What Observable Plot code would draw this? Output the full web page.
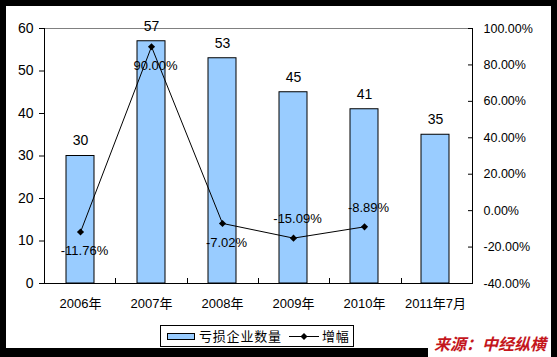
<!DOCTYPE html>
<html><head><meta charset="utf-8">
<script src="https://cdn.jsdelivr.net/npm/d3@7"></script>
<script src="https://cdn.jsdelivr.net/npm/@observablehq/plot@0.6"></script>
<style>
body{margin:0;background:#fff;}
#wrap{position:relative;width:557px;height:357px;background:#000;overflow:hidden;font-family:"Liberation Sans",Arial,"Noto Sans CJK SC",sans-serif;}
#inner{position:absolute;left:6px;top:6px;width:545px;height:342px;background:#fff;}
#chart{position:absolute;left:0;top:0;}
#legend{position:absolute;left:160px;top:325px;width:192px;height:20px;border:1px solid #000;background:#fff;font-size:13px;font-family:"Noto Sans CJK SC",sans-serif;letter-spacing:0.8px;color:#000;}
#legend .sw{position:absolute;left:6px;top:7px;width:26px;height:5px;background:#99ccff;border:1px solid #000;}
#legend .t1{position:absolute;left:38px;top:0px;line-height:20px;white-space:nowrap;}
#legend svg{position:absolute;left:127px;top:4px;}
#legend .t2{position:absolute;left:161px;top:0px;line-height:20px;white-space:nowrap;}
#srcbox{position:absolute;left:428px;top:330px;width:123px;height:27px;background:#fff;}
#src{position:absolute;left:434px;top:332px;font-size:16px;font-weight:bold;font-style:italic;color:#c4161c;font-family:"Noto Sans CJK SC",sans-serif;white-space:nowrap;line-height:22px;}
</style>
</head><body>
<div id="wrap">
  <div id="inner"></div>
  <div id="chart"></div>
  <div id="legend">
    <div class="sw"></div><div class="t1">亏损企业数量</div>
    <svg width="32" height="12"><line x1="1" y1="6.5" x2="31" y2="6.5" stroke="#000" stroke-width="1"/><path d="M16,3 L19.5,6.5 L16,10 L12.5,6.5Z" fill="#000"/></svg>
    <div class="t2">增幅</div>
  </div>
  <div id="srcbox"></div>
  <div id="src">来源：中经纵横</div>
</div>
<script>
// ---- data ----
const years = ["2006年", "2007年", "2008年", "2009年", "2010年", "2011年7月"];
const lossCount = [30, 57, 53, 45, 41, 35];
const growthYears = ["2006年", "2007年", "2008年", "2009年", "2010年"];
const growthPct = [-11.76, 90.00, -7.02, -15.09, -8.89];
const growthLabelSide = ["below", "below", "below", "above", "above"];
const leftTicks = [0, 10, 20, 30, 40, 50, 60];
const rightTicks = [-40, -20, 0, 20, 40, 60, 80, 100];

// secondary axis mapping (-40%..100%) -> (0..60)
const rMin = -40, rMax = 100, lMax = 60;
const toLeft = p => (p - rMin) * lMax / (rMax - rMin);
const toRight = v => v * (rMax - rMin) / lMax + rMin;

const bars = years.map((c, i) => ({c, v: lossCount[i]}));
const growth = growthYears.map((c, i) => ({c, p: growthPct[i], y: toLeft(growthPct[i]), side: growthLabelSide[i]}));

function frameMark(index, scales, values, dims) {
  const {width, height, marginLeft: ml, marginRight: mr, marginTop: mt, marginBottom: mb} = dims;
  const x0 = ml, x1 = width - mr, yb = height - mb, yt = mt;
  const g = d3.create("svg:g").attr("shape-rendering", "crispEdges");
  g.append("line").attr("x1", x0).attr("x2", x1).attr("y1", yt + 0.5).attr("y2", yt + 0.5).attr("stroke", "#808080");
  g.append("line").attr("x1", x0 + 0.5).attr("x2", x0 + 0.5).attr("y1", yt).attr("y2", yb + 1).attr("stroke", "#000");
  g.append("line").attr("x1", x1 + 0.5).attr("x2", x1 + 0.5).attr("y1", yt).attr("y2", yb + 1).attr("stroke", "#000");
  g.append("line").attr("x1", x0).attr("x2", x1 + 1).attr("y1", yb + 0.5).attr("y2", yb + 0.5).attr("stroke", "#000");
  const n = years.length, step = (x1 - x0) / n;
  for (let i = 1; i < n; i++) {
    const xx = Math.round(x0 + i * step) + 0.5;
    g.append("line").attr("x1", xx).attr("x2", xx).attr("y1", yb).attr("y2", yb - 5).attr("stroke", "#000");
  }
  return g.node();
}

const chart = Plot.plot({
  width: 557,
  height: 320,
  marginLeft: 44,
  marginRight: 85,
  marginTop: 28,
  marginBottom: 37,
  style: {background: "transparent", fontFamily: "'Liberation Sans', Arial, 'Noto Sans CJK SC', sans-serif", color: "#000"},
  x: {domain: years, paddingInner: 0.6, paddingOuter: 0.3, label: null},
  y: {domain: [0, lMax], label: null},
  marks: [
    Plot.barY(bars, {x: "c", y: "v", fill: "#99ccff", stroke: "#000", strokeWidth: 1}),
    frameMark,
    Plot.axisY({anchor: "left", ticks: leftTicks, tickSize: 5, tickPadding: 6, fontSize: 14, label: null, stroke: "#000"}),
    Plot.axisY({anchor: "right", ticks: rightTicks.map(toLeft), tickFormat: v => Math.round(toRight(v)).toFixed(2) + "%", tickSize: -5, tickPadding: 16, fontSize: 12.5, label: null}),
    Plot.axisX({tickSize: 0, tickPadding: 15, fontSize: 13, label: null}),
    Plot.text(bars, {x: "c", y: "v", text: d => String(d.v), dy: -15, fontSize: 14, fill: "#000"}),
    Plot.line(growth, {x: "c", y: "y", stroke: "#000", strokeWidth: 1}),
    Plot.dot(growth, {x: "c", y: "y", symbol: "diamond2", r: 3.2, fill: "#000", stroke: "none"}),
    Plot.text(growth.filter(d => d.side === "below"), {x: "c", y: "y", text: d => d.p.toFixed(2) + "%", dy: 19, dx: 4, fontSize: 13, fill: "#000"}),
    Plot.text(growth.filter(d => d.side === "above"), {x: "c", y: "y", text: d => d.p.toFixed(2) + "%", dy: -19, dx: 4, fontSize: 13, fill: "#000"})
  ]
});
document.getElementById("chart").appendChild(chart);
</script>
</body></html>
